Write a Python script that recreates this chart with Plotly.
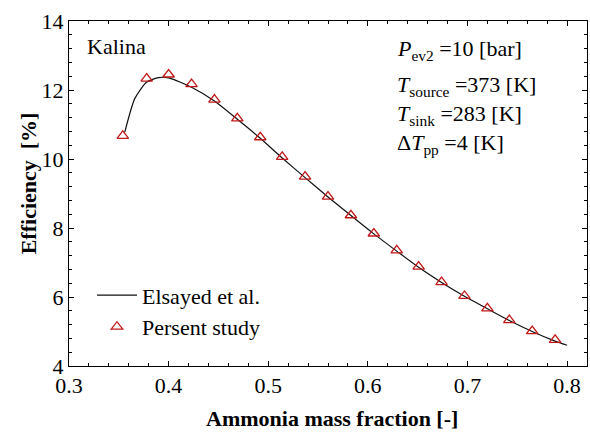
import plotly.graph_objects as go

# Reference curve (Elsayed et al.)
line_x = [0.356, 0.366, 0.378, 0.390, 0.400, 0.423, 0.446, 0.469, 0.492, 0.514,
          0.537, 0.560, 0.583, 0.606, 0.629, 0.651, 0.674, 0.697, 0.720, 0.742,
          0.765, 0.788, 0.800]
line_y = [10.78, 11.75, 12.23, 12.36, 12.35, 12.08, 11.68, 11.15, 10.60, 10.03,
          9.46, 8.90, 8.36, 7.83, 7.33, 6.86, 6.42, 6.02, 5.66, 5.32,
          5.00, 4.72, 4.60]

# Present study points
pts_x = [0.354, 0.378, 0.400, 0.423, 0.446, 0.469, 0.492, 0.514, 0.537, 0.560,
         0.583, 0.606, 0.629, 0.651, 0.674, 0.697, 0.720, 0.742, 0.765, 0.788]
pts_y = [10.67, 12.33, 12.45, 12.17, 11.72, 11.18, 10.63, 10.06, 9.49, 8.91,
         8.37, 7.84, 7.35, 6.88, 6.43, 6.03, 5.67, 5.33, 5.01, 4.76]

x_ticks = [0.3, 0.4, 0.5, 0.6, 0.7, 0.8]
y_ticks = [4, 6, 8, 10, 12, 14]

FONT = "Liberation Serif"

fig = go.Figure()
fig.add_trace(go.Scatter(x=line_x, y=line_y, mode="lines", name="Elsayed et al.",
                         line=dict(color="#111111", width=1.2, shape="spline", smoothing=0.6)))
fig.add_trace(go.Scatter(x=pts_x, y=pts_y, mode="markers", name="Persent study",
                         marker=dict(symbol="triangle-up-open", size=10, color="#C01818",
                                     line=dict(width=1.3, color="#C01818"))))

axis_common = dict(showline=True, linecolor="black", linewidth=1, mirror="ticks",
                   ticks="inside", ticklen=5, tickwidth=1, tickcolor="black",
                   showgrid=False, zeroline=False,
                   tickfont=dict(family=FONT, size=22, color="black"))

fig.update_xaxes(range=[0.3, 0.82], tickvals=x_ticks, ticktext=[str(v) for v in x_ticks],
                 minor=dict(dtick=0.02, tick0=0.3, ticks="inside", ticklen=3,
                            tickcolor="black", showgrid=False),
                 **axis_common)
fig.update_yaxes(range=[4, 14], tickvals=y_ticks, ticktext=[str(v) for v in y_ticks],
                 minor=dict(dtick=0.4, tick0=4, ticks="inside", ticklen=3,
                            tickcolor="black", showgrid=False),
                 **axis_common)

def py(ypix):
    return (365.7 - ypix) / 345.0

def px(xpix):
    return (xpix - 69) / 518.0

annots = [
    dict(text="Kalina", x=px(85), y=py(46)),
    dict(text="<i>P</i><sub>ev2</sub> =10 [bar]", x=px(395), y=py(50)),
    dict(text="<i>T</i><sub>source</sub> =373 [K]", x=px(395), y=py(86)),
    dict(text="<i>T</i><sub>sink</sub> =283 [K]", x=px(395), y=py(115)),
    dict(text="Δ<i>T</i><sub>pp</sub> =4 [K]", x=px(395), y=py(144)),
]
for a in annots:
    fig.add_annotation(xref="paper", yref="paper", xanchor="left", yanchor="middle",
                       showarrow=False, font=dict(family=FONT, size=22, color="black"), **a)

fig.add_annotation(xref="paper", yref="paper", x=px(332), y=py(418), text="<b>Ammonia mass fraction [-]</b>",
                   showarrow=False, xanchor="center", yanchor="middle",
                   font=dict(family=FONT, size=22, color="black"))
fig.add_annotation(xref="paper", yref="paper", x=px(28), y=py(183), text="<b>Efficiency  [%]</b>",
                   showarrow=False, xanchor="center", yanchor="middle", textangle=-90,
                   font=dict(family=FONT, size=22, color="black"))

fig.update_layout(
    width=590, height=432,
    margin=dict(l=69, r=3, t=21, b=66),
    paper_bgcolor="white", plot_bgcolor="white",
    showlegend=True,
    legend=dict(x=px(92), y=py(274), xanchor="left", yanchor="top",
                bgcolor="rgba(0,0,0,0)", font=dict(family=FONT, size=22, color="black"),
                itemwidth=40, tracegroupgap=0),
)

fig.write_html("out.html", config={"displayModeBar": False},
               post_script="document.body.style.margin='0';")
